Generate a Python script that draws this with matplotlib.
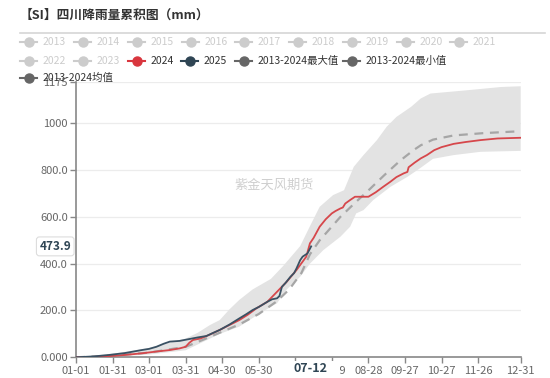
import matplotlib
matplotlib.use("Agg")
import matplotlib.pyplot as plt
from matplotlib.lines import Line2D
from matplotlib.patches import Rectangle

plt.rcParams['font.family'] = ['Noto Sans CJK SC', 'DejaVu Sans']

# 日期索引 (2024 闰年, 0 = 01-01, 365 = 12-31)
tick_days = [0, 30, 60, 90, 120, 150, 180, 210, 240, 270, 300, 330, 365]
tick_labels = ["01-01", "01-31", "03-01", "03-31", "04-30", "05-30", "06-29",
               "07-29", "08-28", "09-27", "10-27", "11-26", "12-31"]
y_ticks = [0, 200, 400, 600, 800, 1000, 1175]
y_labels = ["0.000", "200.0", "400.0", "600.0", "800.0", "1000", "1175"]

# 2024
d_2024 = [0, 15, 27, 40, 54, 65, 77, 85, 90, 93, 96, 102, 109, 118, 126, 134, 141,
          148, 157, 165, 173, 181, 189, 192, 195, 200, 205, 210, 213, 217, 219, 221,
          225, 229, 240, 246, 252, 258, 263, 269, 272, 273, 278, 283, 288, 294, 300,
          310, 320, 332, 346, 365]
v_2024 = [0, 2, 5, 10, 17, 24, 31, 38, 45, 62, 74, 80, 95, 117, 138, 159, 182,
          209, 237, 280, 323, 373, 430, 487, 510, 558, 590, 615, 625, 636, 640, 657,
          672, 686, 686, 705, 728, 750, 770, 786, 792, 812, 832, 850, 864, 885, 898,
          912, 920, 928, 935, 938]

# 2025 (截至 07-12)
d_2025 = [0, 15, 27, 40, 54, 60, 66, 72, 77, 85, 96, 100, 107, 112, 118, 126, 134,
          140, 145, 150, 157, 161, 165, 167, 169, 172, 176, 179, 181, 184, 186, 190, 193]
v_2025 = [0, 4, 10, 18, 31, 36, 45, 58, 67, 70, 81, 85, 91, 103, 117, 140, 166,
          185, 202, 215, 237, 248, 252, 262, 301, 318, 344, 360, 380, 415, 430, 444, 473.9]

# 2013-2024 均值
d_mean = [0, 30, 60, 90, 102, 118, 134, 150, 165, 175, 185, 192, 200, 206, 217, 229,
          241, 253, 266, 277, 283, 293, 310, 335, 365]
v_mean = [0, 7, 20, 45, 70, 105, 140, 185, 240, 290, 360, 440, 500, 535, 600, 660,
          718, 778, 840, 885, 906, 930, 948, 958, 966]

# 2013-2024 最大值
d_max = [0, 30, 60, 90, 100, 110, 118, 126, 134, 145, 160, 170, 184, 192, 200, 211,
         220, 228, 236, 247, 255, 263, 275, 283, 291, 321, 349, 365]
v_max = [0, 15, 40, 80, 105, 138, 159, 205, 245, 290, 335, 390, 475, 560, 643, 693,
         714, 814, 864, 928, 985, 1027, 1070, 1106, 1127, 1141, 1155, 1158]

# 2013-2024 最小值
d_min = [0, 30, 60, 90, 102, 118, 134, 151, 165, 173, 184, 192, 203, 217, 225, 230,
         236, 244, 258, 272, 283, 293, 310, 332, 365]
v_min = [0, 3, 12, 30, 60, 100, 131, 188, 231, 290, 344, 400, 458, 515, 558, 615,
         629, 672, 728, 771, 810, 848, 864, 878, 882]

legend_row1 = ["2013", "2014", "2015", "2016", "2017", "2018", "2019", "2020", "2021"]
legend_row2 = ["2022", "2023", "2024", "2025", "2013-2024最大值", "2013-2024最小值"]
legend_row3 = ["2013-2024均值"]

W, H = 550, 378
fig = plt.figure(figsize=(5.5, 3.78), dpi=100)
ax = fig.add_axes([76 / W, 1 - 357.3 / H, (520.7 - 76) / W, (357.3 - 82.3) / H])

# 阴影区间
ax.fill(list(d_max) + d_min[::-1], list(v_max) + v_min[::-1],
        color="#e3e3e3", lw=0, zorder=1)
ax.plot(d_mean, v_mean, color="#a6a6a6", lw=1.6, ls=(0, (4, 3)), zorder=2)
ax.plot(d_2024, v_2024, color="#d6474b", lw=1.3, zorder=3)
ax.plot(d_2025, v_2025, color="#3a5163", lw=1.3, zorder=4)

ax.set_xlim(0, 365)
ax.set_ylim(0, 1175)
ax.set_yticks(y_ticks)
ax.set_yticklabels(y_labels)
ax.set_xticks(tick_days)
ax.set_xticklabels(tick_labels)
ax.grid(axis="y", color="#ececec", lw=0.9)
ax.set_axisbelow(True)
for s in ["top", "right"]:
    ax.spines[s].set_visible(False)
for s in ["left", "bottom"]:
    ax.spines[s].set_color("#888888")
    ax.spines[s].set_linewidth(1.2)
ax.tick_params(axis="both", colors="#888888", labelcolor="#666666",
               labelsize=8, length=4, width=1)
ax.tick_params(axis="x", pad=2)
ax.tick_params(axis="y", pad=2)

# 水印
ax.text(0.445, 0.625, "紫金天风期货", transform=ax.transAxes, fontsize=9.5,
        color="#cfcfcf", ha="center", va="center")

# x 轴指示器标签 (盖住 06-29 和 07-29 的大部分)
fig.add_artist(Rectangle((281 / W, 0), (339.5 - 281) / W, (378 - 361) / H,
                         transform=fig.transFigure, fc="white", ec="none", zorder=5))
fig.text(310 / W, 1 - 369 / H, "07-12", ha="center", va="center", fontsize=9,
         fontweight="bold", color="#2f4554", zorder=6)
ax.text(-4, 473.9, "473.9", ha="right", va="center", fontsize=8.5,
        fontweight="bold", color="#2f4554", clip_on=False,
        bbox=dict(boxstyle="round,pad=0.25", fc="white", ec="#dddddd", lw=0.8))

# 标题
fig.text(20 / W, 1 - 15 / H, "【SI】四川降雨量累积图（mm）", fontsize=9.2,
         fontweight="bold", color="#333333", va="center", ha="left")
fig.add_artist(Line2D([20 / W, 545 / W], [1 - 33 / H, 1 - 33 / H],
                      color="#d6d6d6", lw=1.2))


def legend_item(x, y, label, color, text_color):
    fy = 1 - y / H
    fig.add_artist(Line2D([x / W, (x + 17) / W], [fy, fy], color=color, lw=1.5))
    fig.add_artist(Line2D([(x + 8.5) / W], [fy], marker="o", markersize=6.5,
                          color=color, lw=0))
    fig.text((x + 23) / W, fy, label, fontsize=7.5, color=text_color,
             va="center", ha="left")


row1_x = [20, 74, 128, 182, 235, 289, 343, 397, 450]
for x, lab in zip(row1_x, legend_row1):
    legend_item(x, 42, lab, "#cccccc", "#cccccc")

row2_x = [20, 74, 128, 181, 235, 343]
row2_colors = ["#cccccc", "#cccccc", "#d9363e", "#2f4554", "#666666", "#666666"]
row2_text = ["#cccccc", "#cccccc", "#333333", "#333333", "#333333", "#333333"]
for x, lab, c, tc in zip(row2_x, legend_row2, row2_colors, row2_text):
    legend_item(x, 60.5, lab, c, tc)

legend_item(20, 78, legend_row3[0], "#666666", "#333333")

fig.savefig("out.png", dpi=100)
